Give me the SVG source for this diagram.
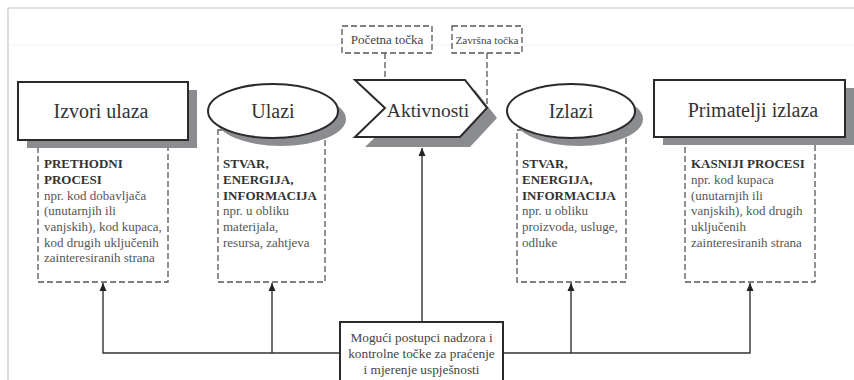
<svg xmlns="http://www.w3.org/2000/svg" width="854" height="380" viewBox="0 0 854 380">
<defs>
<style>
.bg{fill:#ffffff}
.frame{stroke:#c8c8c8;stroke-width:1.2;fill:none}
.faint{stroke:#f2f2f2;stroke-width:1;fill:none}
.shadow{fill:#8a8c90}
.main{fill:#ffffff;stroke:#2a2a2a;stroke-width:2}
.dash{fill:none;stroke:#555555;stroke-width:1.3;stroke-dasharray:6 3}
.dashfill{fill:#ffffff;stroke:#555555;stroke-width:1.3;stroke-dasharray:6 3}
.conn{fill:none;stroke:#333333;stroke-width:1.4}
text{font-family:'Liberation Serif','Times New Roman',serif}
.title{font-size:20px;fill:#333333;text-anchor:middle}
.bold{font-size:13px;font-weight:bold;fill:#333333}
.norm{font-size:13px;fill:#555555}
.small{font-size:13px;fill:#444444;text-anchor:middle}
.ctrl{font-size:13.3px;fill:#444444;text-anchor:middle}
</style>
<marker id="arr" viewBox="0 0 8 10" refX="8" refY="5" markerWidth="8" markerHeight="10" markerUnits="userSpaceOnUse" orient="auto">
<path d="M0,1.5 L8,5 L0,8.5 z" fill="#222222"/>
</marker>
</defs>
<rect class="bg" x="0" y="0" width="854" height="380"/>
<path class="frame" d="M8,380 L8,8 L854,8"/>
<path class="faint" d="M9,45 L854,45"/>

<g id="connectors">
<path class="dash" d="M385,53 L385,108"/>
<path class="dash" d="M487,53 L487,108"/>
<path class="conn" d="M340,353 L103,353 L103,283" marker-end="url(#arr)"/>
<path class="conn" d="M272,353 L272,283" marker-end="url(#arr)"/>
<path class="conn" d="M504,353 L750,353 L750,283" marker-end="url(#arr)"/>
<path class="conn" d="M571,353 L571,283" marker-end="url(#arr)"/>
<path class="conn" d="M422,322 L422,148" marker-end="url(#arr)"/>
</g>

<g id="izvori-ulaza">
<rect class="dashfill" x="38" y="140" width="130" height="142"/>
<rect class="shadow" x="27" y="90" width="170" height="58"/>
<rect class="main" x="18" y="82" width="170" height="58"/>
<text class="title" x="101" y="118">Izvori ulaza</text>
<text class="bold" x="44" y="168">PRETHODNI</text>
<text class="bold" x="44" y="184">PROCESI</text>
<text class="norm" x="44" y="199.5">npr. kod dobavljača</text>
<text class="norm" x="44" y="215">(unutarnjih ili</text>
<text class="norm" x="44" y="231">vanjskih), kod kupaca,</text>
<text class="norm" x="44" y="246.5">kod drugih uključenih</text>
<text class="norm" x="44" y="262">zainteresiranih strana</text>
</g>

<g id="ulazi">
<rect class="dashfill" x="218" y="130" width="107" height="152"/>
<ellipse class="shadow" cx="281" cy="119" rx="65" ry="27"/>
<ellipse class="main" cx="273" cy="111" rx="65" ry="27"/>
<text class="title" x="273" y="118">Ulazi</text>
<text class="bold" x="223" y="168">STVAR,</text>
<text class="bold" x="223" y="184">ENERGIJA,</text>
<text class="bold" x="223" y="199.5">INFORMACIJA</text>
<text class="norm" x="223" y="215">npr. u obliku</text>
<text class="norm" x="223" y="231">materijala,</text>
<text class="norm" x="223" y="246.5">resursa, zahtjeva</text>
</g>

<g id="aktivnosti">
<polygon class="shadow" points="365,90 475,90 497,118 470,147 365,147 395,118"/>
<polygon class="main" points="355,80 465,80 487,108 460,137 355,137 385,108"/>
<text class="title" x="428" y="117" style="font-size:19.5px">Aktivnosti</text>
</g>

<g id="pocetna-tocka">
<rect class="dashfill" x="342" y="26" width="90" height="27"/>
<text class="small" x="387" y="44">Početna točka</text>
</g>

<g id="zavrsna-tocka">
<rect class="dashfill" x="452" y="26" width="70" height="27"/>
<text class="small" x="487" y="43.5" style="font-size:11.2px">Završna točka</text>
</g>

<g id="izlazi">
<rect class="dashfill" x="517" y="130" width="109" height="152"/>
<ellipse class="shadow" cx="579" cy="119" rx="64" ry="27"/>
<ellipse class="main" cx="571" cy="111" rx="64" ry="27"/>
<text class="title" x="571" y="118">Izlazi</text>
<text class="bold" x="522" y="168">STVAR,</text>
<text class="bold" x="522" y="184">ENERGIJA,</text>
<text class="bold" x="522" y="199.5">INFORMACIJA</text>
<text class="norm" x="522" y="215">npr. u obliku</text>
<text class="norm" x="522" y="231">proizvoda, usluge,</text>
<text class="norm" x="522" y="246.5">odluke</text>
</g>

<g id="primatelji-izlaza">
<rect class="dashfill" x="685" y="140" width="130" height="142"/>
<rect class="shadow" x="663" y="88" width="191" height="57"/>
<rect class="main" x="654" y="80" width="191" height="57"/>
<text class="title" x="753" y="117">Primatelji izlaza</text>
<text class="bold" x="691" y="168">KASNIJI PROCESI</text>
<text class="norm" x="691" y="184">npr. kod kupaca</text>
<text class="norm" x="691" y="199.5">(unutarnjih ili</text>
<text class="norm" x="691" y="215">vanjskih), kod drugih</text>
<text class="norm" x="691" y="231">uključenih</text>
<text class="norm" x="691" y="246.5">zainteresiranih strana</text>
</g>

<g id="nadzor">
<rect class="main" x="340" y="322" width="163" height="70"/>
<text class="ctrl" x="421.5" y="341.5">Mogući postupci nadzora i</text>
<text class="ctrl" x="421.5" y="357.5">kontrolne točke za praćenje</text>
<text class="ctrl" x="421.5" y="374">i mjerenje uspješnosti</text>
</g>
</svg>
